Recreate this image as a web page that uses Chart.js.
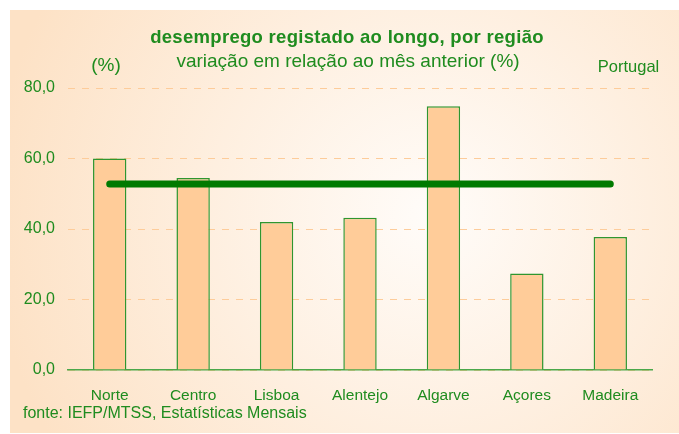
<!DOCTYPE html>
<html>
<head>
<meta charset="utf-8">
<script src="https://cdn.jsdelivr.net/npm/chart.js@4"></script>
<style>
  html, body { margin: 0; padding: 0; background: #fff; }
  #wrap { position: relative; width: 679px; height: 434px; }
</style>
</head>
<body>
<div id="wrap"><canvas id="myBarChart" width="679" height="434"></canvas></div>
<script>
// Data
var regioes = ['Norte', 'Centro', 'Lisboa', 'Alentejo', 'Algarve', 'Açores', 'Madeira'];
var variacao = [60.0, 54.5, 42.0, 43.2, 74.8, 27.4, 37.7];
var portugal = [52.8, 52.8, 52.8, 52.8, 52.8, 52.8, 52.8];
var yTicks = [0, 20, 40, 60, 80];

var green = '#1f8c1f';
var font = '"Liberation Sans", Arial, sans-serif';

// Background panel with soft radial gradient
var backgroundPlugin = {
  id: 'panelBackground',
  beforeDraw: function (chart) {
    var ctx = chart.ctx;
    ctx.save();
    ctx.fillStyle = '#ffffff';
    ctx.fillRect(0, 0, chart.width, chart.height);
    var g = ctx.createRadialGradient(430, 215, 0, 430, 215, 440);
    g.addColorStop(0, '#fffcf9');
    g.addColorStop(1, '#fde2c6');
    ctx.fillStyle = g;
    ctx.fillRect(10, 10, chart.width - 10, chart.height - 11);
    ctx.restore();
  }
};

// Titles and notes
var textPlugin = {
  id: 'notes',
  afterDraw: function (chart) {
    var ctx = chart.ctx;
    ctx.save();
    ctx.fillStyle = green;
    ctx.textBaseline = 'middle';
    ctx.textAlign = 'center';
    ctx.font = 'bold 18.5px ' + font;
    ctx.letterSpacing = '0.3px';
    ctx.fillText('desemprego registado ao longo, por região', 347, 38);
    ctx.letterSpacing = '0px';
    ctx.font = '19px ' + font;
    ctx.fillText('variação em relação ao mês anterior (%)', 348, 62);
    ctx.fillText('(%)', 106, 66);
    ctx.font = '16.5px ' + font;
    ctx.fillText('Portugal', 628.5, 67);
    ctx.textAlign = 'left';
    ctx.font = '16px ' + font;
    ctx.fillText('fonte: IEFP/MTSS, Estatísticas Mensais', 23, 414);
    ctx.restore();
  }
};

var ctx = document.getElementById('myBarChart');
new Chart(ctx, {
  data: {
    labels: regioes,
    datasets: [{
      type: 'line',
      label: 'Portugal',
      data: portugal,
      borderColor: '#007a00',
      borderWidth: 7,
      borderCapStyle: 'round',
      pointRadius: 0,
      fill: false,
      order: 0
    }, {
      type: 'bar',
      label: 'variação',
      data: variacao,
      backgroundColor: '#ffcc99',
      borderColor: '#2f962f',
      borderWidth: 1.5,
      barPercentage: 0.4,
      categoryPercentage: 1,
      order: 1
    }]
  },
  plugins: [backgroundPlugin, textPlugin],
  options: {
    responsive: false,
    animation: false,
    layout: { padding: { top: 88, left: 10, right: 27, bottom: 0 } },
    plugins: {
      legend: { display: false },
      title: { display: false },
      tooltip: { enabled: false }
    },
    scales: {
      x: {
        grid: { display: false },
        border: { display: true, color: '#4aa84a', width: 1.5 },
        ticks: { color: green, font: { family: font, size: 15.5 }, padding: 8 },
        afterFit: function (scale) { scale.height = 64; }
      },
      y: {
        min: 0,
        max: 80,
        afterBuildTicks: function (scale) {
          scale.ticks = yTicks.map(function (v) { return { value: v }; });
        },
        grid: { color: '#fdcc9a', drawTicks: false, lineWidth: 1 },
        border: { display: false, dash: [7, 7] },
        ticks: {
          color: green,
          font: { family: font, size: 16 },
          padding: 13,
          callback: function (v) { return v.toFixed(1).replace('.', ','); }
        },
        afterFit: function (scale) { scale.width = 58; }
      }
    }
  }
});
</script>
</body>
</html>
